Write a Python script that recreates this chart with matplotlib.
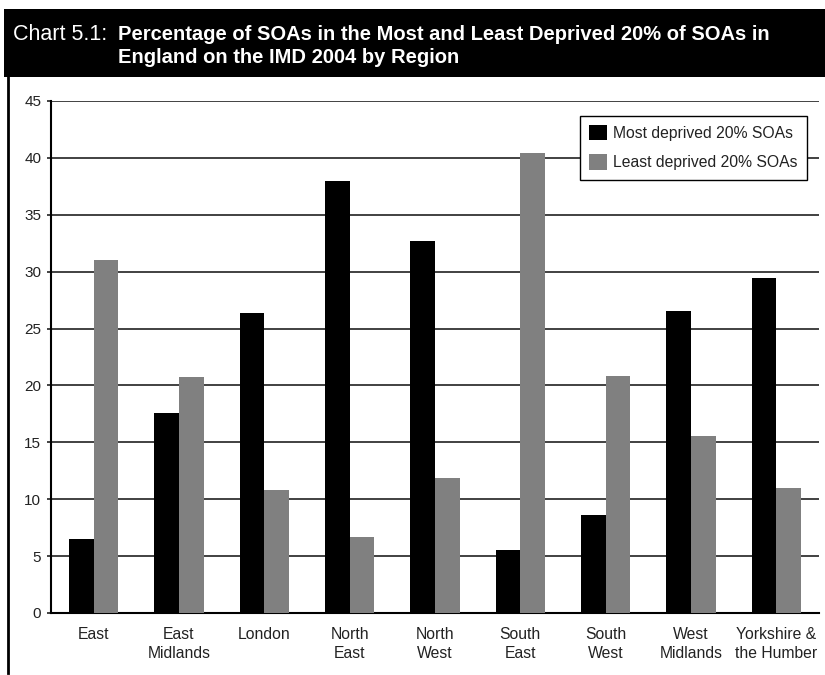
import matplotlib
matplotlib.use("Agg")
import matplotlib.pyplot as plt
from matplotlib.patches import Rectangle
from matplotlib.lines import Line2D
import numpy as np

plt.rcParams['font.family'] = ['Liberation Sans', 'DejaVu Sans']

regions = ["East", "East\nMidlands", "London", "North\nEast", "North\nWest",
           "South\nEast", "South\nWest", "West\nMidlands", "Yorkshire &\nthe Humber"]
most_deprived = [6.5, 17.6, 26.4, 38.0, 32.7, 5.5, 8.6, 26.5, 29.4]
least_deprived = [31.0, 20.7, 10.8, 6.7, 11.9, 40.4, 20.8, 15.6, 11.0]
y_ticks = [0, 5, 10, 15, 20, 25, 30, 35, 40, 45]

W, H = 825, 675
fig = plt.figure(figsize=(W / 100, H / 100), dpi=100)

# title band and left frame rule
fig.patches.append(Rectangle((4 / W, 1 - 77 / H), 1 - 4 / W, 68 / H,
                             transform=fig.transFigure, facecolor="black",
                             edgecolor="none", zorder=0))
fig.lines.append(Line2D([7.5 / W, 7.5 / W], [0.003, 1 - 77 / H],
                        transform=fig.transFigure, color="black", lw=2))

title_fs = 14.5
fig.text(13 / W, 1 - 40 / H, "Chart 5.1:", color="white", fontsize=15.5,
         va="baseline")
fig.text(118 / W, 1 - 40 / H,
         "Percentage of SOAs in the Most and Least Deprived 20% of SOAs in",
         color="white", fontsize=title_fs, fontweight="bold", va="baseline")
fig.text(118 / W, 1 - 63 / H, "England on the IMD 2004 by Region",
         color="white", fontsize=title_fs, fontweight="bold", va="baseline")

ax = fig.add_axes([51 / W, 62 / H, 768 / W, 512 / H])
x = np.arange(len(regions))
bw = 0.29
ax.bar(x - bw / 2, most_deprived, bw, color="black", label="Most deprived 20% SOAs", zorder=3)
ax.bar(x + bw / 2, least_deprived, bw, color="#808080", label="Least deprived 20% SOAs", zorder=3)

ax.set_xlim(-0.5, len(regions) - 0.5)
ax.set_ylim(0, 45)
ax.set_yticks(y_ticks)
ax.set_yticklabels([str(t) for t in y_ticks])
ax.set_xticks(x)
ax.set_xticklabels(regions, linespacing=1.35)
ax.yaxis.grid(True, color="#333333", lw=1.3, zorder=0)
ax.set_axisbelow(True)
for s in ["top", "right"]:
    ax.spines[s].set_visible(False)
ax.spines["left"].set_linewidth(1.5)
ax.spines["bottom"].set_linewidth(1.5)
ax.tick_params(axis="y", length=3, width=1.2, labelsize=11, colors="#222222", pad=4)
ax.tick_params(axis="x", length=0, labelsize=11.3, colors="#222222", pad=10)

leg = ax.legend(loc="upper right", bbox_to_anchor=(0.984, 0.971), borderaxespad=0,
                fontsize=11.3, frameon=True, fancybox=False, edgecolor="black",
                framealpha=1, handlelength=1.1, handleheight=1.1, handletextpad=0.4,
                borderpad=0.6, labelspacing=0.85)
leg.get_frame().set_linewidth(1.0)
for t in leg.get_texts():
    t.set_color("#222222")

fig.savefig("out.png", dpi=100, facecolor="white")
